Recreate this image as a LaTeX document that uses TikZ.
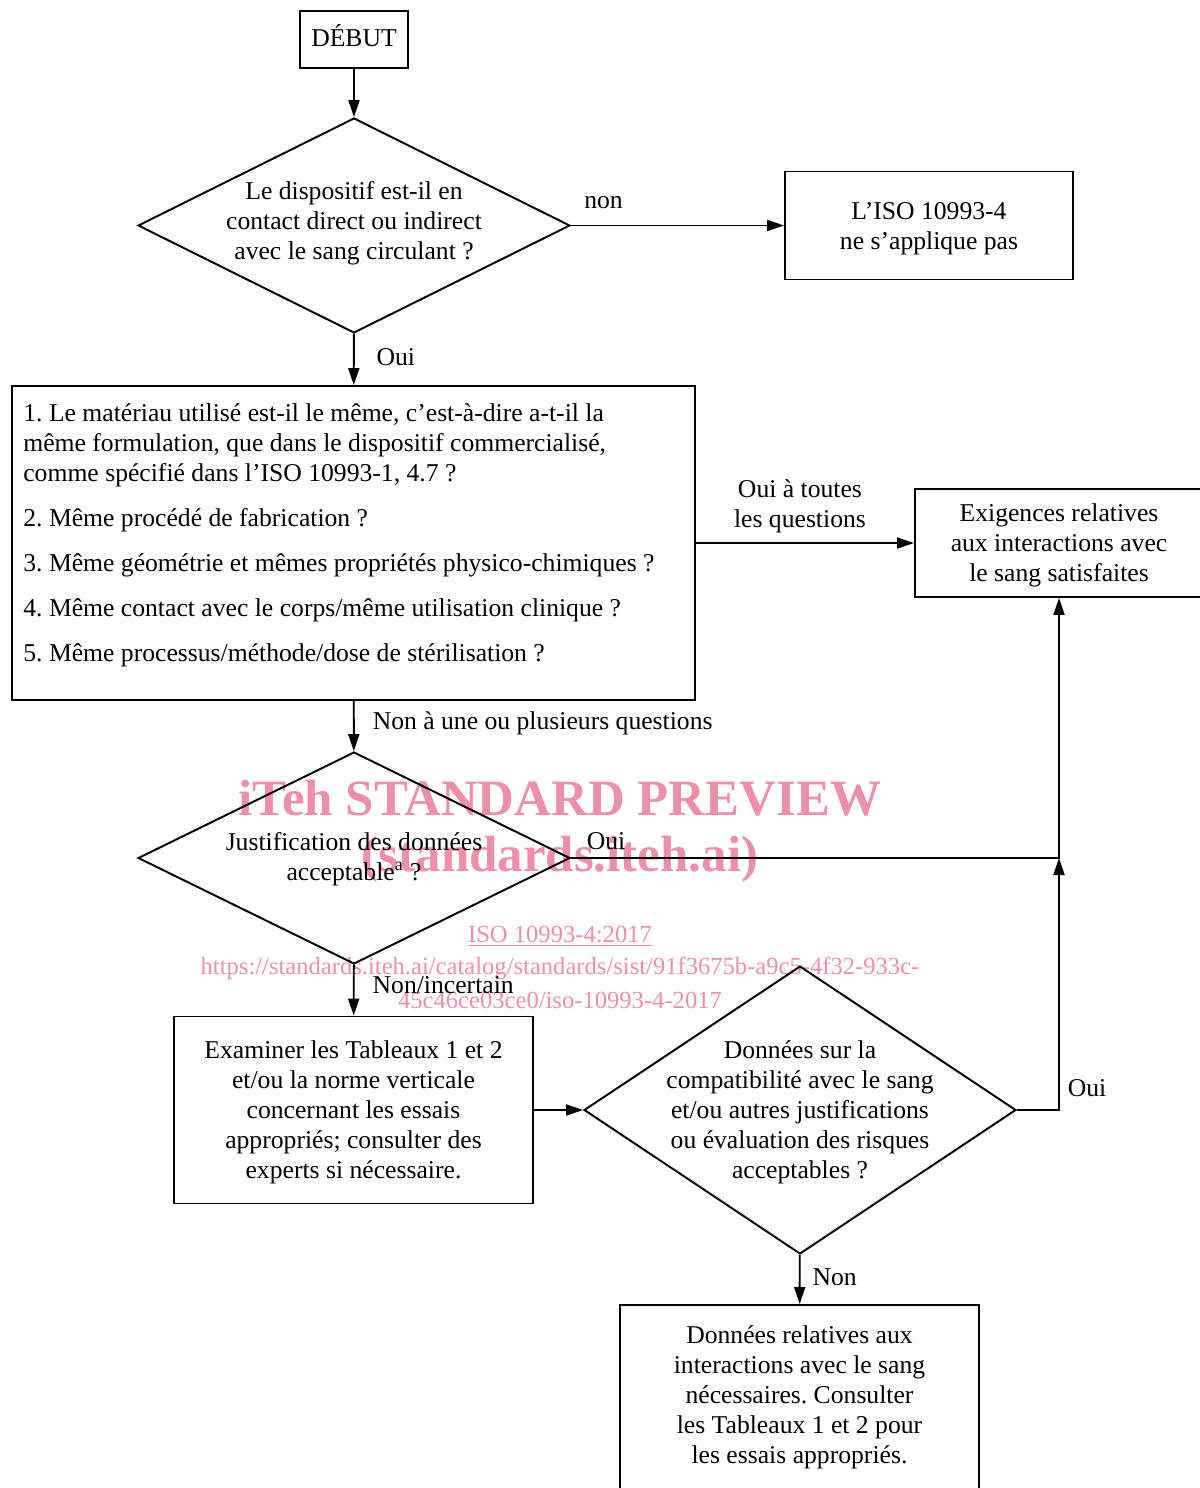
\documentclass[tikz,border=0pt]{standalone}
\usepackage{fontspec}
\setmainfont{Liberation Serif}
\usetikzlibrary{shapes.geometric,arrows.meta}
\frenchspacing

\definecolor{wmpink}{RGB}{238,143,170}

\tikzset{
  box/.style={draw, line width=1.1pt, inner sep=0pt},
  decision/.style={draw, diamond, line width=1.1pt, inner sep=0pt},
  txt/.style={align=center, text depth=0pt, font=\fontsize{14.6pt}{17.07pt}\selectfont},
  lbl/.style={font=\fontsize{14.6pt}{17.07pt}\selectfont, inner sep=0pt},
  arr/.style={line width=1.1pt, -{Triangle[length=0.34cm,width=0.22cm]}},
  wm/.style={text=wmpink, inner sep=0pt}
}

\begin{document}
\begin{tikzpicture}[x=0.02cm, y=-0.02cm]
\useasboundingbox (0,0) rectangle (1200,1488);
\clip (0,0) rectangle (1200,1488);

% watermark
\node[wm, font=\fontsize{29pt}{34pt}\selectfont\bfseries] (wmtitle) at (560,798) {iTeh STANDARD PREVIEW};
\node[wm, font=\fontsize{29pt}{34pt}\selectfont\bfseries] (wmsite) at (560,859) {(standards.iteh.ai)};
\node[wm, font=\fontsize{14pt}{17pt}\selectfont] (wmiso) at (560,936) {\underline{ISO 10993-4:2017}};
\node[wm, font=\fontsize{14pt}{17pt}\selectfont] (wmurla) at (560,968) {https://standards.iteh.ai/catalog/standards/sist/91f3675b-a9c5-4f32-933c-};
\node[wm, font=\fontsize{14pt}{17pt}\selectfont] (wmurlb) at (560,1000) {45c46ce03ce0/iso-10993-4-2017};

% boxes and decisions
\node[box, txt, minimum width=2.16cm, minimum height=1.14cm, text height=0.8em] (start) at (354,39.5) {DÉBUT};

\node[decision, minimum width=8.64cm, minimum height=4.3cm] (q1) at (354,225.5) {};
\node[txt] (q1txt) at (354,220) {Le dispositif est-il en\\contact direct ou indirect\\avec le sang circulant ?};

\node[box, txt, minimum width=5.76cm, minimum height=2.16cm] (napp) at (929,225.5) {L’ISO 10993-4\\ne s’applique pas};

\node[box, minimum width=13.66cm, minimum height=6.28cm] (crit) at (353.5,543) {};
\node[txt, align=left, anchor=north west, inner sep=0pt] (crittxt) at (23,403.5) {1. Le matériau utilisé est-il le même, c’est-à-dire a-t-il la\\même formulation, que dans le dispositif commercialisé,\\comme spécifié dans l’ISO 10993-1, 4.7 ?\\[0.3cm]2. Même procédé de fabrication ?\\[0.3cm]3. Même géométrie et mêmes propriétés physico-chimiques ?\\[0.3cm]4. Même contact avec le corps/même utilisation clinique ?\\[0.3cm]5. Même processus/méthode/dose de stérilisation ?};

\node[box, txt, minimum width=5.76cm, minimum height=2.16cm] (ok) at (1059,543) {Exigences relatives\\aux interactions avec\\le sang satisfaites};

\node[decision, minimum width=8.64cm, minimum height=4.24cm] (q2) at (354,858) {};
\node[txt] (q2txt) at (354,856) {Justification des données\\acceptable\textsuperscript{a} ?};

\node[box, txt, minimum width=7.18cm, minimum height=3.74cm] (exam) at (353.5,1110) {Examiner les Tableaux 1 et 2\\et/ou la norme verticale\\concernant les essais\\appropriés; consulter des\\experts si nécessaire.};

\node[decision, minimum width=8.64cm, minimum height=5.76cm] (q3) at (800,1110) {};
\node[txt] (q3txt) at (800,1110) {Données sur la\\compatibilité avec le sang\\et/ou autres justifications\\ou évaluation des risques\\acceptables ?};

\node[box, minimum width=7.18cm, minimum height=4cm] (need) at (799.5,1405) {};
\node[txt] (needtxt) at (799.5,1394.5) {Données relatives aux\\interactions avec le sang\\nécessaires. Consulter\\les Tableaux 1 et 2 pour\\les essais appropriés.};

\coordinate (merge) at (ok.south |- q2.east);

% connectors
\draw[arr] (start) -- (q1);
\draw[arr] (q1.east) -- (napp.west) node[lbl, anchor=base, pos=0.153, yshift=0.35cm] {non};
\draw[arr] (q1) -- (crit) node[lbl, anchor=base, pos=0.62, xshift=0.84cm] {Oui};
\draw[arr] (crit.east |- ok.west) -- (ok.west) node[lbl, align=center, anchor=south, pos=0.477, yshift=0.19cm] {Oui à toutes\\les questions};
\draw[arr] (crit) -- (q2) node[lbl, anchor=base west, pos=0.577, xshift=0.36cm] {Non à une ou plusieurs questions};
\draw[arr] (q2.east) -| (ok.south) node[lbl, anchor=base, pos=0.036, yshift=0.18cm] {Oui};
\draw[arr] (q2) -- (exam) node[lbl, anchor=base west, pos=0.566, xshift=0.36cm] {Non/incertain};
\draw[arr] (exam.east) -- (q3.west);
\draw[arr] (q3.east) -| (merge) node[lbl, anchor=base, pos=0.526, xshift=0.56cm] {Oui};
\draw[arr] (q3) -- (need) node[lbl, anchor=base, pos=0.63, xshift=0.7cm] {Non};
\end{tikzpicture}
\end{document}
